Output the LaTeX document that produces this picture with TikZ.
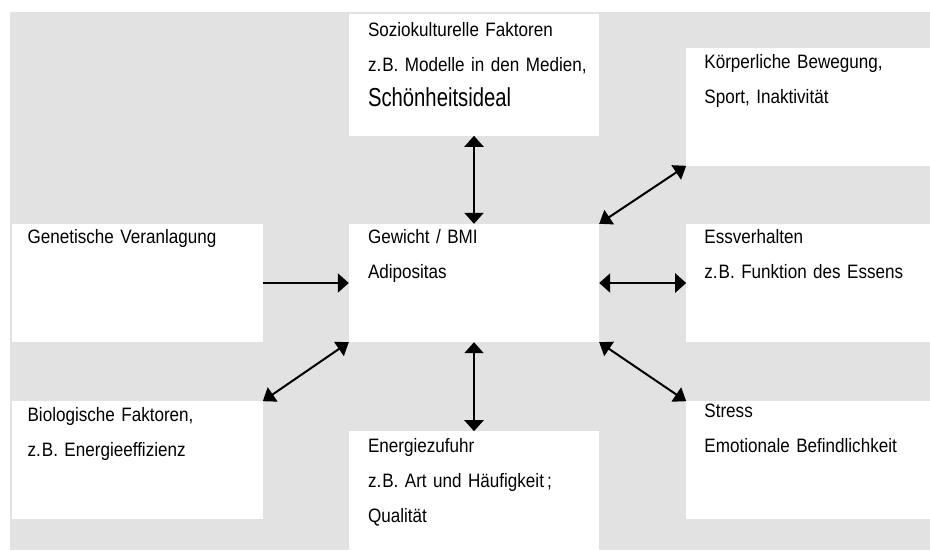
\documentclass[tikz,border=0pt]{standalone}
\usepackage{fontspec}
\setmainfont{Liberation Sans}[FakeStretch=0.88]
\newfontfamily\idealfont{Liberation Sans}[FakeStretch=0.78]
\usetikzlibrary{arrows.meta, positioning}
\definecolor{bggrey}{HTML}{E2E2E2}
\newcommand{\zB}{z.\kern1pt B.}
\newcommand{\boxfont}{\fontsize{19.4}{35}\selectfont
  \spaceskip=4pt plus 1pt minus 1pt\relax}

\begin{document}
\begin{tikzpicture}[x=1pt, y=-1pt,
every node/.style = {fill=white, inner ysep=0pt, inner xsep=19pt,
                     text width=212pt, align=left,
                     text height=19pt, text depth=99pt,
                     font=\boxfont},
leftcol/.style = {inner xsep=16pt, text width=219pt},
rightcol/.style = {inner xsep=18pt, text width=208pt},
link/.style = {<->, >={Triangle[length=11pt,width=19pt]}, line width=2.4pt},
                    ]
%---
\useasboundingbox (0,0) rectangle (930,550);
\fill[bggrey] (10,12) rectangle (930,550);

\node (gewicht) at (474,283) {Gewicht / BMI \\ Adipositas};

\node (genetik) [leftcol, left=86pt of gewicht] {Genetische Veranlagung};
\node (ess) [rightcol, right=87pt of gewicht] {Essverhalten \\ \zB{} Funktion des Essens};

\node (sozio) [above=88pt of gewicht, text height=22.7pt, text depth=99.3pt]
      {Soziokulturelle Faktoren \\ \mbox{\zB{} Modelle in den Medien,} \\
       {\idealfont\fontsize{26}{35}\selectfont Schönheitsideal}};
\node (energie) [below=89pt of gewicht, text height=20.7pt, text depth=98.3pt]
      {Energiezufuhr \\ \zB{} Art und Häufigkeit\,; \\ Qualität};

\node (bewegung) [rightcol, above=58pt of ess, text height=21pt, text depth=97pt]
      {Körperliche Bewegung, \\ Sport, Inaktivität};
\node (stress) [rightcol, below=59pt of ess, text height=16pt, text depth=102pt]
      {Stress \\ Emotionale Befindlichkeit};
\node (biologie) [leftcol, below=59pt of genetik, text height=19.7pt, text depth=98.3pt]
      {Biologische Faktoren, \\ \zB{} Energieeffizienz};

\path[link, -{Triangle[length=11pt,width=19pt]}]
        (genetik.east) edge (gewicht.west);
\path[link]
        (sozio.south) edge (gewicht.north)
        (energie.north) edge (gewicht.south)
        (ess.west) edge (gewicht.east);
\path[link, line width=2pt, >={Triangle[length=12pt,width=17pt]}]
        (bewegung.south west) edge (gewicht.north east)
        (stress.north west) edge (gewicht.south east)
        (biologie.north east) edge (gewicht.south west);

\end{tikzpicture}
\end{document}
